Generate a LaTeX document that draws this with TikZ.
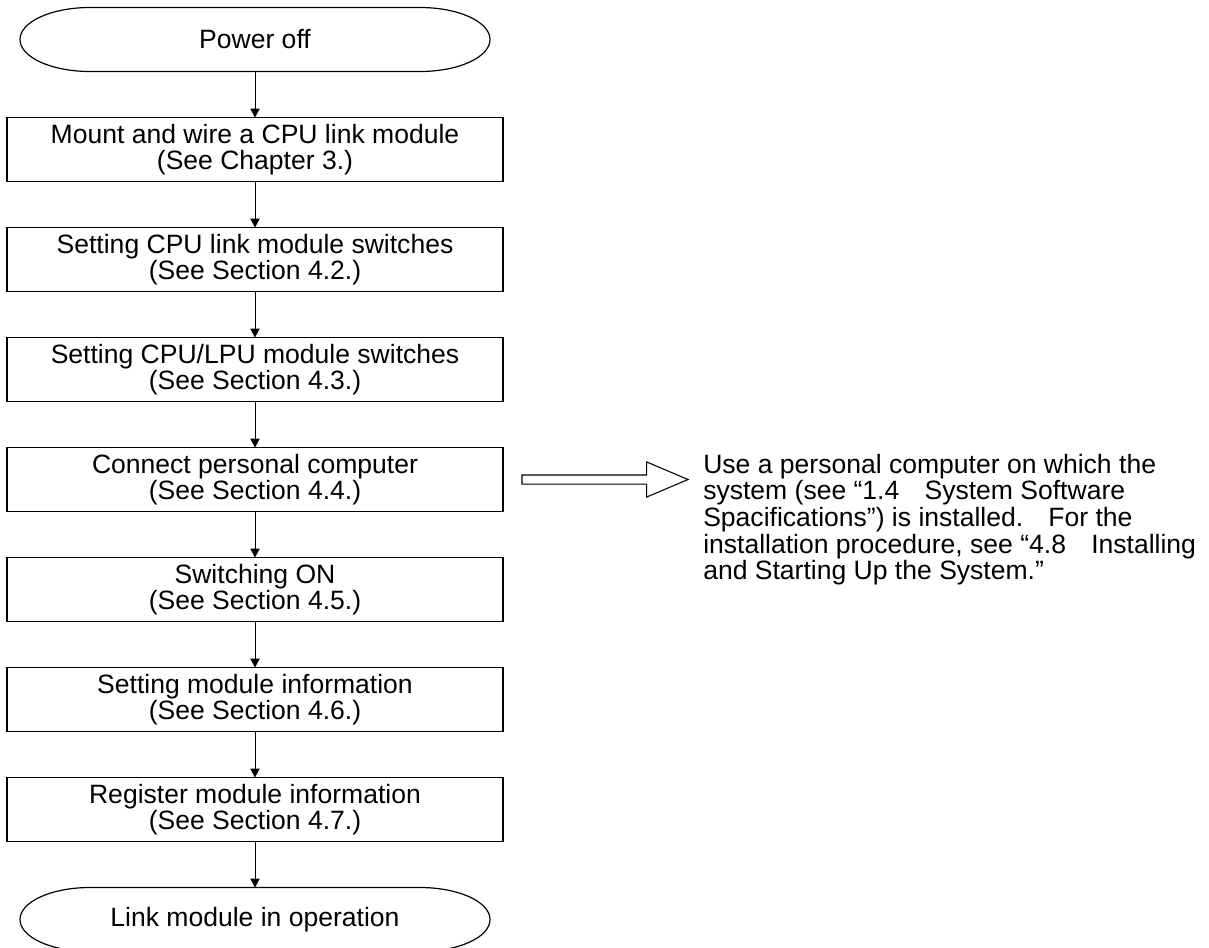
\documentclass[tikz,border=0pt]{standalone}
\usepackage{fontspec}
\setmainfont{Liberation Sans}
\usetikzlibrary{positioning,shapes,arrows.meta}
\tikzstyle{startstop} = [rectangle, text centered, minimum width=352.5pt, minimum height=48pt, inner sep=0pt, outer sep=0pt]
\tikzstyle{process} = [rectangle, align=center, draw=black, line width=1.1pt, minimum width=372pt, minimum height=48pt, inner sep=0pt, outer sep=0pt]
\tikzstyle{hollow} = [single arrow, draw=black, line width=0.8pt, minimum height=124.5pt, inner sep=3pt, outer sep=0pt, single arrow head extend=9.75pt, single arrow tip angle=46]
\tikzstyle{arrow} = [-{Triangle[length=6.75pt,width=7pt]}, line width=0.75pt]
\tikzstyle{termedge} = [draw=black, line width=0.9pt]
% outline of a terminal node, with elliptic ends
\newcommand{\termline}[1]%
{\draw [termedge] ([xshift=52.5pt]#1.north west) -- ([xshift=-52.5pt]#1.north east)
	arc[start angle=90, end angle=-90, x radius=52.5pt, y radius=24pt]
	-- ([xshift=52.5pt]#1.south west)
	arc[start angle=270, end angle=90, x radius=52.5pt, y radius=24pt] -- cycle;}

\begin{document}
\begin{tikzpicture}[font=\fontsize{19.9pt}{20pt}\selectfont]
		\useasboundingbox (0,0) rectangle (906.75pt,-710.25pt);
		
		\node (power-off) [startstop] at (191.25pt,-29.625pt) {Power off};
		\node (mount-wire) [process,below=34.5pt of power-off] {Mount and wire a CPU link module\\(See Chapter 3.)};
		\node (link-switches) [process,below=34.5pt of mount-wire] {Setting CPU link module switches\\(See Section 4.2.)};
		\node (cpu-switches) [process,below=34.5pt of link-switches] {Setting CPU/LPU module switches\\(See Section 4.3.)};
		\node (connect-pc) [process,below=34.5pt of cpu-switches] {Connect personal computer\\(See Section 4.4.)};
		\node (switch-on) [process,below=34.5pt of connect-pc] {Switching ON\\(See Section 4.5.)};
		\node (set-info) [process,below=34.5pt of switch-on] {Setting module information\\(See Section 4.6.)};
		\node (register-info) [process,below=34.5pt of set-info] {Register module information\\(See Section 4.7.)};
		\node (in-operation) [startstop,below=34.5pt of register-info] {Link module in operation};
		
		\termline{power-off}
		\termline{in-operation}
		
		\draw [arrow] (power-off) -- (mount-wire);
		\draw [arrow] (mount-wire) -- (link-switches);
		\draw [arrow] (link-switches) -- (cpu-switches);
		\draw [arrow] (cpu-switches) -- (connect-pc);
		\draw [arrow] (connect-pc) -- (switch-on);
		\draw [arrow] (switch-on) -- (set-info);
		\draw [arrow] (set-info) -- (register-info);
		\draw [arrow] (register-info) -- (in-operation);
		
		\node (pc-arrow) [hollow,right=14.25pt of connect-pc] {};
		\node (pc-note) [anchor=north west, align=left, inner sep=0pt] at ([xshift=11.25pt,yshift=19.5pt]pc-arrow.east)
		{Use a personal computer on which the\\
		system (see “1.4\hspace{0.95em}System Software\\
		Spacifications”) is installed.\hspace{0.95em}For the\\
		installation procedure, see “4.8\hspace{0.95em}Installing\\
		and Starting Up the System.”};
	
	\end{tikzpicture}
\end{document}
